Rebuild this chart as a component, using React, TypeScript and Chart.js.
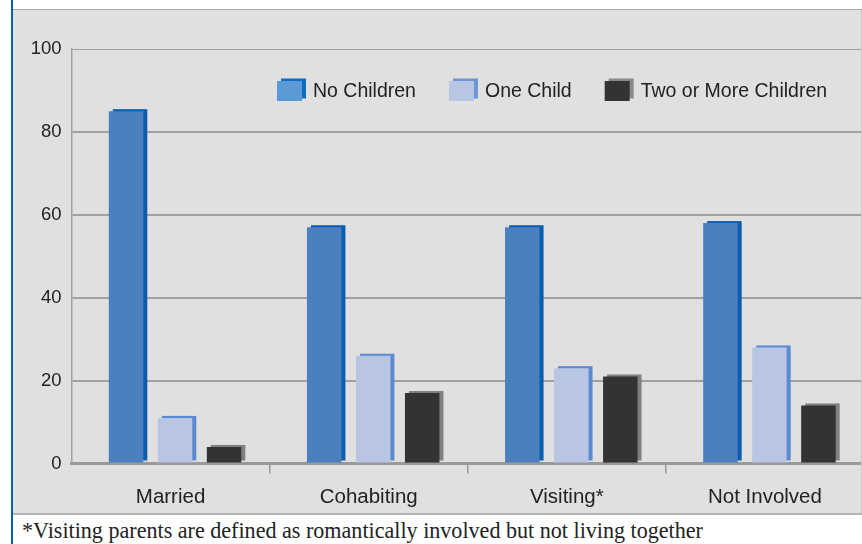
import React, { useEffect, useRef } from "react";
import { Chart, registerables } from "chart.js";

Chart.register(...registerables);

// ---- data ----
const categories = ["Married", "Cohabiting", "Visiting*", "Not Involved"];
const seriesLabels = ["No Children", "One Child", "Two or More Children"];
const noChildren = [85, 57, 57, 58];
const oneChild = [11, 26, 23, 28];
const twoOrMore = [4, 17, 21, 14];
const yTicks = [0, 20, 40, 60, 80, 100];
const footnote = "*Visiting parents are defined as romantically involved but not living together";

// ---- styles ----
const FONT = '"Liberation Sans", Arial, Helvetica, sans-serif';
const SERIF = '"Liberation Serif", "Times New Roman", Times, serif';
const frontColors = ["#4b7fbe", "#b8c6e4", "#333333"];
const sideColors = ["#0b5eae", "#5c8ad0", "#808080"];
const legendFront = ["#5b9ad6", "#b8c6e4", "#333333"];
const legendSide = ["#0d6bc2", "#6a96d6", "#8a8a8a"];

const SHIFT_X = 4.5;
const DEPTH_X = 4;
const DEPTH_Y = -2;

const depthPlugin = {
  id: "depth3d",
  beforeDatasetsDraw(chart: any) {
    const ctx = chart.ctx;
    ctx.save();
    ctx.translate(SHIFT_X, 0);
    chart.data.datasets.forEach((ds: any, i: number) => {
      const meta = chart.getDatasetMeta(i);
      meta.data.forEach((bar: any) => {
        const p = bar.getProps(["x", "y", "base", "width"], true);
        ctx.fillStyle = sideColors[i];
        ctx.fillRect(p.x - p.width / 2 + DEPTH_X, p.y + DEPTH_Y, p.width, p.base - p.y);
      });
    });
  },
  afterDatasetsDraw(chart: any) {
    chart.ctx.restore();
  },
};

const LEGEND_X = 264;
const LEGEND_Y = 81;
const legendPlugin = {
  id: "customLegend",
  afterDraw(chart: any) {
    const ctx = chart.ctx;
    ctx.save();
    ctx.font = `19.5px ${FONT}`;
    ctx.textBaseline = "middle";
    ctx.textAlign = "left";
    let x = LEGEND_X;
    chart.data.datasets.forEach((ds: any, i: number) => {
      ctx.fillStyle = legendSide[i];
      ctx.fillRect(x + 4, LEGEND_Y - 10 - 2.5, 25, 20);
      ctx.fillStyle = legendFront[i];
      ctx.fillRect(x, LEGEND_Y - 10, 25, 20);
      ctx.fillStyle = "#222222";
      ctx.fillText(ds.label, x + 36, LEGEND_Y + 1);
      x += 36 + ctx.measureText(ds.label).width + 33;
    });
    ctx.restore();
  },
};

function BarChart() {
  const ref = useRef<HTMLCanvasElement | null>(null);
  useEffect(() => {
    if (!ref.current) return;
    const values = [noChildren, oneChild, twoOrMore];
    const chart = new Chart(ref.current, {
      type: "bar",
      data: {
        labels: categories,
        datasets: seriesLabels.map((label, i) => ({
          label,
          data: values[i],
          backgroundColor: frontColors[i],
          borderWidth: 0,
          categoryPercentage: 0.742,
          barPercentage: 0.704,
        })),
      },
      options: {
        animation: false,
        responsive: false,
        maintainAspectRatio: false,
        devicePixelRatio: 1,
        layout: { padding: { top: 39, left: 0, right: 0, bottom: 0 } },
        plugins: { legend: { display: false }, tooltip: { enabled: false } },
        scales: {
          x: {
            grid: {
              offset: true,
              drawOnChartArea: false,
              drawTicks: true,
              tickLength: 10,
              lineWidth: 1.5,
              color: (c: any) => (c.index === 0 ? "rgba(0,0,0,0)" : "#9a9a9a"),
            },
            border: { display: true, color: "#999999", width: 3 },
            ticks: {
              font: { family: FONT, size: 20.5 },
              color: "#222222",
              padding: 12,
              maxRotation: 0,
            },
            afterFit: (s: any) => {
              s.height = 49.5;
            },
          },
          y: {
            min: 0,
            max: 100,
            afterBuildTicks: (s: any) => {
              s.ticks = yTicks.map((v) => ({ value: v }));
            },
            ticks: {
              padding: 10,
              font: { family: FONT, size: 18.5 },
              color: "#222222",
            },
            grid: {
              drawTicks: false,
              color: "#a0a0a0",
              lineWidth: (c: any) => (c.tick && c.tick.value === 100 ? 1 : 2),
            },
            border: { display: true, color: "#a0a0a0", width: 1.5 },
            afterFit: (s: any) => {
              s.width = 58.5;
            },
          },
        },
      },
      plugins: [depthPlugin, legendPlugin],
    });
    return () => chart.destroy();
  }, []);
  return (
    <canvas
      ref={ref}
      width={851}
      height={503}
      style={{ position: "absolute", left: 13, top: 10, width: 851, height: 503 }}
    />
  );
}

export default function App() {
  return (
    <div
      style={{
        position: "fixed",
        left: 0,
        top: 0,
        width: 862,
        height: 544,
        overflow: "hidden",
        background: "#ffffff",
      }}
    >
      {/* gray panel */}
      <div style={{ position: "absolute", left: 13, top: 10, width: 849, height: 503, background: "#e0e0e0" }} />
      <div style={{ position: "absolute", left: 13, top: 8.5, width: 849, height: 1.5, background: "#ababab" }} />
      <BarChart />
      <div style={{ position: "absolute", left: 13, top: 512.5, width: 849, height: 2, background: "#b5b5b5" }} />
      <div style={{ position: "absolute", left: 860.5, top: 10, width: 1.5, height: 503, background: "#c9c9c9" }} />
      {/* left blue border */}
      <div style={{ position: "absolute", left: 11.3, top: 0, width: 2, height: 544, background: "#0c5fb0" }} />
      {/* footnote */}
      <div
        style={{
          position: "absolute",
          left: 22,
          top: 519.5,
          fontFamily: SERIF,
          fontSize: 22.1,
          lineHeight: "22px",
          color: "#222222",
          whiteSpace: "nowrap",
        }}
      >
        {footnote}
      </div>
    </div>
  );
}
